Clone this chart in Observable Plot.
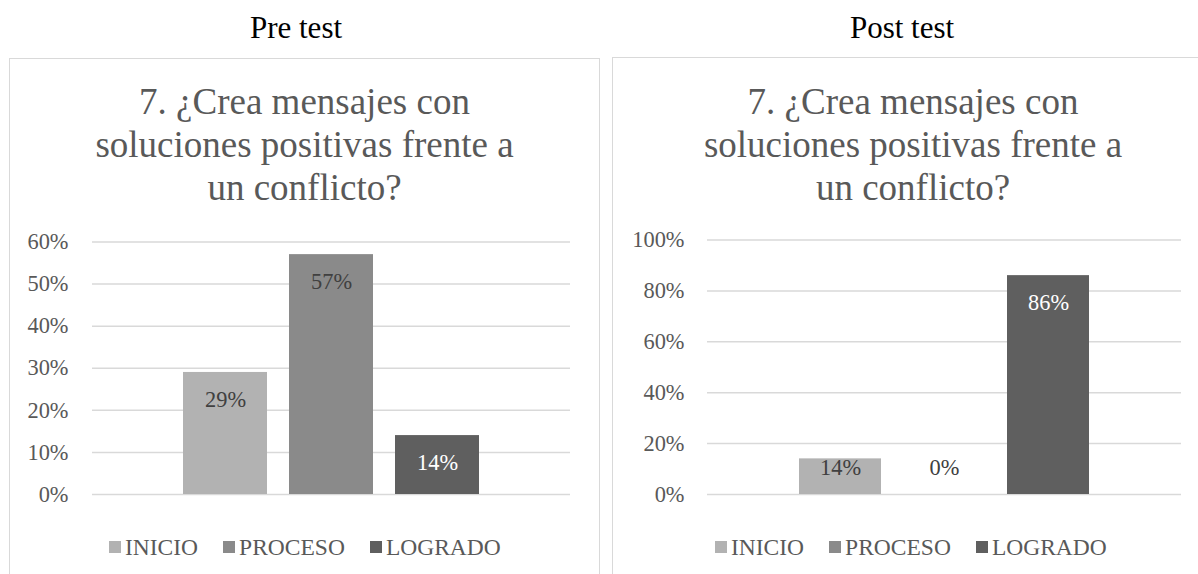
<!DOCTYPE html>
<html>
<head>
<meta charset="utf-8">
<script src="https://cdn.jsdelivr.net/npm/d3@7"></script>
<script src="https://cdn.jsdelivr.net/npm/@observablehq/plot@0.6"></script>
<style>
  html, body { margin: 0; padding: 0; background: #fff; width: 1198px; height: 574px; overflow: hidden; }
  body { position: relative; }
  body, div, span, svg, svg text { font-family: "Liberation Serif", "Times New Roman", "DejaVu Serif", serif !important; }
  .abs { position: absolute; }
  .header { font-size: 31px; line-height: 31px; color: #000; text-align: center; white-space: nowrap; }
  .box { box-sizing: border-box; border: 1.5px solid #d9d9d9; }
  .ttl { font-size: 37px; line-height: 43px; color: #595959; text-align: center; white-space: nowrap; }
  .lgd { display: flex; align-items: center; font-size: 23.5px; line-height: 24px; color: #595959; white-space: nowrap; }
  .lgd .item { display: flex; align-items: center; margin-right: 25px; }
  .lgd .sw { width: 12px; height: 12px; margin-right: 4px; }
</style>
</head>
<body>
<script>
const categories = ["INICIO", "PROCESO", "LOGRADO"];
const preValues = [0.29, 0.57, 0.14];
const postValues = [0.14, 0.00, 0.86];
const barColors = ["#b2b2b2", "#8a8a8a", "#5f5f5f"];
const labelColors = ["#404040", "#404040", "#ffffff"];
const preTicks = [0, 0.1, 0.2, 0.3, 0.4, 0.5, 0.6];
const postTicks = [0, 0.2, 0.4, 0.6, 0.8, 1.0];
const headers = ["Pre test", "Post test"];
const titleLines = ["7. ¿Crea mensajes con", "soluciones positivas frente a", "un conflicto?"];

const pct = d3.format(".0%");
const SERIF = '"Liberation Serif", "Times New Roman", "DejaVu Serif", serif';

function el(tag, cls, styles, html) {
  const e = document.createElement(tag);
  if (cls) e.className = cls;
  Object.assign(e.style, styles || {});
  if (html != null) e.innerHTML = html;
  document.body.appendChild(e);
  return e;
}

function panel(cfg) {
  el("div", "abs header", {left: cfg.headerCenter - 150 + "px", width: "300px", top: "12px"}, cfg.header);
  el("div", "abs box", {left: cfg.boxLeft + "px", top: cfg.boxTop + "px", width: cfg.boxWidth + "px", height: "700px"});
  el("div", "abs ttl", {left: cfg.titleCenter - 300 + "px", width: "600px", top: "80px"}, titleLines.join("<br>"));

  const data = categories.map((c, i) => ({cat: c, value: cfg.values[i], labelColor: labelColors[i]}));
  const H = 300, mt = cfg.marginTop, mb = 26;
  const k = (H - mt - mb) / cfg.ymax;
  const off = 27 / k;
  const chart = Plot.plot({
    width: cfg.width,
    height: H,
    marginLeft: cfg.marginLeft,
    marginRight: cfg.marginRight,
    marginTop: mt,
    marginBottom: mb,
    style: {fontFamily: SERIF, fontSize: "22.4px", color: "#595959", background: "transparent", overflow: "visible"},
    x: {domain: categories, paddingInner: cfg.pInner, paddingOuter: cfg.pOuter, axis: null},
    y: {domain: [0, cfg.ymax], ticks: cfg.ticks, tickFormat: pct, tickSize: 0, tickPadding: cfg.tickPadding, label: null},
    color: {domain: categories, range: barColors},
    marks: [
      Plot.ruleY(cfg.ticks, {stroke: "#d9d9d9", strokeWidth: 1.5}),
      Plot.barY(data, {x: "cat", y: "value", fill: "cat"}),
      Plot.text(data, {
        x: "cat",
        y: d => Math.max(d.value - off, off),
        text: d => pct(d.value),
        fill: d => d.labelColor,
        fontSize: 22.4,
        fontFamily: SERIF
      })
    ]
  });
  chart.classList.add("abs");
  chart.style.left = cfg.svgLeft + "px";
  chart.style.top = "220px";
  document.body.appendChild(chart);

  const lg = el("div", "abs lgd", {left: cfg.legendLeft + "px", top: "535px"});
  categories.forEach((c, i) => {
    const it = document.createElement("div");
    it.className = "item";
    it.innerHTML = `<div class="sw" style="background:${barColors[i]}"></div><span>${c}</span>`;
    lg.appendChild(it);
  });
}

panel({
  header: headers[0], headerCenter: 296,
  boxLeft: 9, boxTop: 58, boxWidth: 591,
  titleCenter: 304.5,
  values: preValues, ticks: preTicks, ymax: 0.6,
  width: 600, svgLeft: 0, marginLeft: 92, marginRight: 30, marginTop: 21.5,
  pInner: 0.2075, pOuter: 0.858, tickPadding: 24,
  legendLeft: 109
});

panel({
  header: headers[1], headerCenter: 902,
  boxLeft: 612, boxTop: 57, boxWidth: 610,
  titleCenter: 913,
  values: postValues, ticks: postTicks, ymax: 1.0,
  width: 598, svgLeft: 600, marginLeft: 107, marginRight: 17, marginTop: 19.5,
  pInner: 0.2095, pOuter: 0.8667, tickPadding: 23,
  legendLeft: 715
});
</script>
</body>
</html>
